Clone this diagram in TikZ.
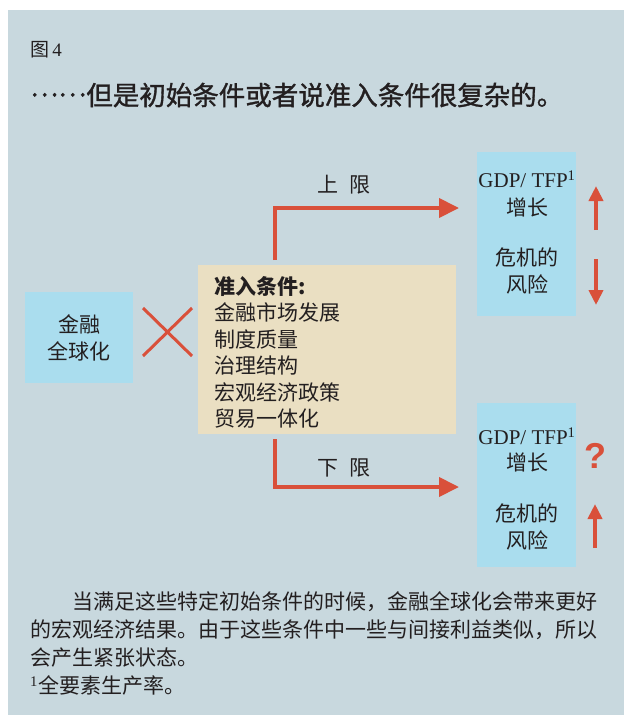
\documentclass[tikz,border=0pt]{standalone}
\usepackage{fontspec}
\setmainfont{Liberation Serif}
\setsansfont{Liberation Sans}
\newfontfamily\cjk{Noto Sans CJK SC}
\newfontfamily\cjkt{Noto Sans CJK SC}[FakeBold=1.2]
\usetikzlibrary{arrows.meta}
\definecolor{panel}{HTML}{C8D8DE}
\definecolor{lblue}{HTML}{AADDEE}
\definecolor{beige}{HTML}{EADFC2}
\definecolor{ared}{HTML}{D9503A}
\definecolor{txt}{HTML}{231F20}
\begin{document}
\begin{tikzpicture}[x=1pt,y=-1pt,
  bluebox/.style={fill=lblue, draw=none, inner sep=0pt},
  condbox/.style={fill=beige, draw=none, inner sep=0pt},
  lbl/.style={text=txt, inner sep=0pt, font=\fontsize{21}{27}\selectfont\cjk, align=center},
  bigarrow/.style={draw=ared, line width=4pt, -{Triangle[length=20pt,width=19pt]}},
  smallarrow/.style={draw=ared, line width=4pt, -{Triangle[length=15pt,width=14pt]}},
  cross/.style={draw=ared, line width=3pt}
]
\useasboundingbox (0,0) rectangle (624,715);
\fill[white] (0,0) rectangle (624,715);
\fill[panel] (8,10) rectangle (624,715);

% title
\node[anchor=west, text=txt, inner sep=0pt] (fig) at (30,50) {\fontsize{19}{19}\selectfont{\cjk 图}\,4};
\node[anchor=west, text=txt, inner sep=0pt] (title) at (30,95) {\fontsize{26.5}{26.5}\selectfont\cjkt\raisebox{0.33em}{……}但是初始条件或者说准入条件很复杂的。};

% boxes
\node[bluebox, minimum width=108pt, minimum height=91pt] (glob) at (79,337.5) {};
\node[lbl] (globt) at (glob.center) {金融\\全球化};

\node[condbox, minimum width=258pt, minimum height=169pt] (cond) at (327,349.5) {};
\node[lbl, anchor=north west, align=left, font=\fontsize{21}{26.5}\selectfont\cjk] (condt) at (214,276) {{\bfseries 准入条件:}\\金融市场发展\\制度质量\\治理结构\\宏观经济政策\\贸易一体化};

\node[bluebox, minimum width=99pt, minimum height=164pt] (up) at (526.5,234) {};
\node[lbl, font=\fontsize{21}{28}\selectfont] (upa) at (527,194) {GDP/ TFP\textsuperscript{1}\\{\cjk 增长}};
\node[lbl] (upb) at (527,270.5) {危机的\\风险};

\node[bluebox, minimum width=99pt, minimum height=164pt] (lo) at (526.5,485) {};
\node[lbl, font=\fontsize{21}{26}\selectfont] (loa) at (527,450) {GDP/ TFP\textsuperscript{1}\\{\cjk 增长}};
\node[lbl] (lob) at (527,526.5) {危机的\\风险};

% cross
\coordinate (x1) at (143,308); \coordinate (x2) at (192,356);
\coordinate (x3) at (143,356); \coordinate (x4) at (192,308);
\draw[cross] (x1) -- (x2);
\draw[cross] (x3) -- (x4);

% connectors
\coordinate (upstart) at (275,260);
\coordinate (upend) at (459,208);
\draw[bigarrow] (upstart) |- (upend);
\node[lbl] (uplbl) at (344,185) {上\hspace{0.5em}限};

\coordinate (lostart) at (275,439);
\coordinate (loend) at (459,487);
\draw[bigarrow] (lostart) |- (loend);
\node[lbl] (lolbl) at (344,468) {下\hspace{0.5em}限};

% small arrows
\coordinate (a1s) at (596,230); \coordinate (a1e) at (596,186);
\coordinate (a2s) at (596,259); \coordinate (a2e) at (596,305);
\coordinate (a3s) at (595,548); \coordinate (a3e) at (595,504);
\draw[smallarrow] (a1s) -- (a1e);
\draw[smallarrow] (a2s) -- (a2e);
\draw[smallarrow] (a3s) -- (a3e);
\node[text=ared, inner sep=0pt, font=\fontsize{36}{36}\selectfont\sffamily\bfseries] (q) at (595,456) {?};

% bottom text
\node[anchor=north west, text=txt, inner sep=0pt, align=left, font=\fontsize{21}{28.3}\selectfont\cjk] (body) at (30,591) {\hspace{2em}当满足这些特定初始条件的时候，金融全球化会带来更好\\的宏观经济结果。由于这些条件中一些与间接利益类似，所以\\会产生紧张状态。\\\textsuperscript{\rmfamily 1}全要素生产率。};
\end{tikzpicture}
\end{document}
